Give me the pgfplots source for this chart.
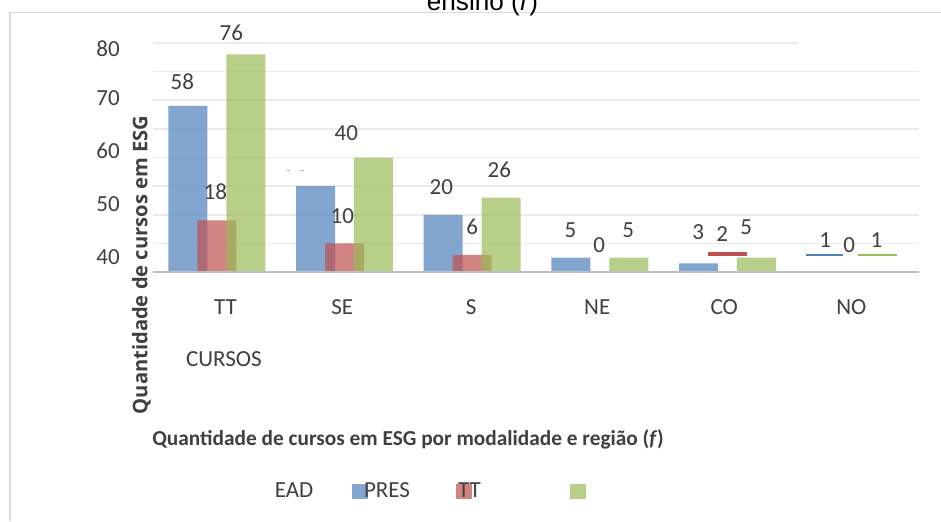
\documentclass[border=0pt]{standalone}
\usepackage{pgfplots}
\pgfplotsset{compat=1.18}
\usepackage{fontspec}
\setmainfont{Carlito}
\newfontfamily\arialf{Liberation Sans}
\newfontfamily\osans{Open Sans}
\definecolor{cblue}{HTML}{4F81BD}
\definecolor{cred}{HTML}{C0504D}
\definecolor{cgreen}{HTML}{9BBB59}
\definecolor{txt}{HTML}{404040}
\definecolor{gridc}{HTML}{EBEBEB}
\definecolor{basec}{HTML}{BFBFBF}
\definecolor{framec}{HTML}{D9D9D9}
\definecolor{dashc}{HTML}{909090}
\newcommand\lf{\fontsize{17.25pt}{20pt}\selectfont}
\begin{document}
\begin{tikzpicture}
\begin{scope}[x=0.75pt,y=0.75pt]
\fill[white] (0,0) rectangle (941,521);
\draw[framec, line width=1.1pt] (10,0) -- (10,508.5) -- (941,508.5);
\end{scope}
\begin{axis}[
  at={(114.75pt,186.75pt)}, anchor=south west,
  scale only axis, width=574.5pt, height=171.75pt,
  xmin=-0.5, xmax=5.5, ymin=0, ymax=80,
  clip=false,
  axis line style={draw=none},
  major tick length=0pt,
  /pgf/number format/assume math mode=true,
  xtick={0.067,0.983,1.993,2.980,3.975,4.970},
  xticklabels={TT,SE,S,NE,CO,NO},
  xticklabel style={anchor=base, yshift=-31.9pt, font=\lf, text=txt},
  ytick={2.7,21.2,39.7,58.2,75.4},
  yticklabels={40,50,60,70,80},
  yticklabel style={anchor=base east, inner sep=0pt, xshift=-24.75pt, font=\lf, text=txt},
  extra y ticks={10,20,30,40,50,60,70},
  extra y tick labels={},
  extra y tick style={grid=major, major grid style={draw=gridc, line width=1.2pt}},
  xlabel={Quantidade de cursos em ESG por modalidade e região (\textit{f})},
  xlabel style={at={(axis description cs:0.333,-0.729)}, anchor=center, font=\bfseries\fontsize{16pt}{19pt}\selectfont, text=txt},
  ylabel={Quantidade de cursos em ESG},
  ylabel style={at={(axis description cs:-0.015,0.0306)}, anchor=center, font=\osans\bfseries\fontsize{15.1pt}{18pt}\selectfont, text=txt},
]
% EAD
\addplot[ybar, bar width=0.3055, bar shift=-0.227, fill=cblue, fill opacity=0.7, draw=none]
  coordinates {(0,58) (1,30) (2,20) (3,5) (4,3)};
% PRES
\addplot[ybar, bar width=0.3055, bar shift=0, fill=cred, fill opacity=0.7, draw=none]
  coordinates {(0,18) (1,10) (2,6)};
% TT
\addplot[ybar, bar width=0.3055, bar shift=0.227, fill=cgreen, fill opacity=0.7, draw=none]
  coordinates {(0,76) (1,40) (2,26) (3,5) (4,5)};
% small values drawn as lines
\addplot[cred, line width=3pt, mark=none] coordinates {(3.850,6.4) (4.155,6.4)};
\addplot[cblue, line width=1.5pt, mark=none] coordinates {(4.617,6.05) (4.907,6.05)};
\addplot[cgreen, line width=1.5pt, mark=none] coordinates {(5.025,6.05) (5.330,6.05)};
\draw[basec, line width=1.2pt] (axis cs:-0.5,0) -- (axis cs:5.5,0);
\draw[gridc, line width=1.2pt] (axis cs:-0.5,80) -- (axis cs:4.555,80);
% data labels
\begin{scope}[every node/.style={font=\lf, text=txt, inner sep=0pt}]
\node at (axis cs:-0.270,66.4) {58};
\node at (axis cs:-0.012,27.9) {18};
\node at (axis cs:0.114,83.5) {76};
\node[font=\fontsize{9pt}{9pt}\selectfont, text=dashc] at (axis cs:0.615,34.6) {-\hspace{7.5pt}-};
\node at (axis cs:0.983,19.6) {10};
\node at (axis cs:1.014,48.6) {40};
\node at (axis cs:1.758,29.7) {20};
\node at (axis cs:2.001,15.7) {6};
\node at (axis cs:2.213,35.6) {26};
\node at (axis cs:2.769,14.7) {5};
\node at (axis cs:2.996,9.4) {0};
\node at (axis cs:3.223,14.7) {5};
\node at (axis cs:3.771,14.0) {3};
\node at (axis cs:3.959,13.3) {2};
\node at (axis cs:4.147,15.7) {5};
\node at (axis cs:4.766,11.2) {1};
\node at (axis cs:4.954,9.4) {0};
\node at (axis cs:5.166,11.2) {1};
\node at (axis description cs:0.0927,-0.380) {CURSOS};
\end{scope}
\end{axis}
\begin{scope}[x=0.75pt,y=0.75pt]
% legend
\fill[cblue, fill opacity=0.7] (352,37) rectangle (368,22);
\fill[cred, fill opacity=0.7] (456,37) rectangle (471.5,22);
\fill[cgreen, fill opacity=0.7] (570,37) rectangle (585.5,22);
\node[font=\lf, text=txt, inner sep=0pt] at (294,31) {EAD};
\node[font=\lf, text=txt, inner sep=0pt] at (387,31) {PRES};
\node[font=\lf, text=txt, inner sep=0pt] at (469.5,31) {TT};
% title, cut off at the top edge as in the reference
\node[font=\arialf\fontsize{19.6pt}{23pt}\selectfont, anchor=base, inner sep=0pt] at (482.5,510.5) {ensino (\textit{f})};
\pgfresetboundingbox
\useasboundingbox (0,0) rectangle (941,521);
\end{scope}
\end{tikzpicture}
\end{document}
